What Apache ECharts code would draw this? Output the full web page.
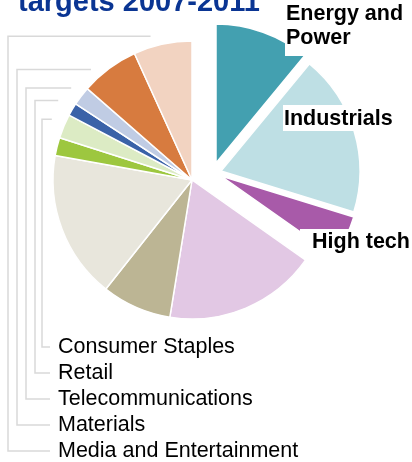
<!DOCTYPE html>
<html><head><meta charset="utf-8">
<script src="https://cdn.jsdelivr.net/npm/echarts@6/dist/echarts.min.js"></script>
<style>html,body{margin:0;padding:0;background:#fff}#c{width:412px;height:462px}</style>
</head><body><div id="c"></div>
<script>
// ---- data ----
const titleText = 'targets 2007-2011';
const sectors = ['Energy and Power', 'Industrials', 'High tech', 'Healthcare', 'Financials', 'Real Estate',
  'Consumer Products and Services', 'Consumer Staples', 'Retail', 'Telecommunications', 'Materials', 'Media and Entertainment'];
const shares = [11.0, 18.8, 5.0, 17.8, 8.1, 17.2, 2.1, 2.8, 1.5, 2.2, 6.8, 6.8];
const palette = ['#43a0b0', '#bedfe4', '#a85aa9', '#e2c8e4', '#bcb594', '#e8e6dc',
  '#9dc73f', '#dcebc4', '#3a62a8', '#c0cce4', '#d77b3f', '#f2d3c1'];

// ---- layout ----
const FONT = '"Liberation Sans", Arial, sans-serif';
const FS = 21.5;
const R = 139;
const MAIN = [192, 180];
const explode = { 0: [216, 163], 1: [221, 171], 2: [221, 176] };
const boldLabels = {
  0: { text: 'Energy and\nPower', x: 285, y: 2, padding: [0, 2, 6, 1] },
  1: { text: 'Industrials', x: 283, y: 105, padding: [2, 3, 0, 1] },
  2: { text: 'High tech', x: 300, y: 229, padding: [1, 10, 3, 12] }
};
// leader-line routing for the left labels (vertical rail x, label y, elbow offset from slice)
const leftSlots = {
  7: { vx: 42, ly: 347, dx: -12, dy: -7 },
  8: { vx: 35, ly: 373, dx: -14, dy: -9 },
  9: { vx: 26, ly: 399, dx: -10, dy: -8 },
  10: { vx: 17, ly: 425, dx: -18, dy: 1 },
  11: { vx: 8, ly: 451, dx: -12, dy: -8 }
};

const total = shares.reduce((a, b) => a + b, 0);
function midAngle(i) {
  let cum = 0;
  for (let k = 0; k < i; k++) cum += shares[k];
  return (cum + shares[i] / 2) / total * 2 * Math.PI;
}

function makeData(isVisible, labelFor) {
  return sectors.map((name, i) => {
    const vis = isVisible(i);
    const lab = labelFor(i);
    return {
      name: name,
      value: shares[i],
      itemStyle: vis ? { color: palette[i], borderColor: '#fff', borderWidth: 1.5 } : { color: 'rgba(0,0,0,0)', borderWidth: 0 },
      label: lab ? lab : { show: false },
      labelLine: { show: !!(lab && lab.line) }
    };
  });
}

const baseSeries = {
  type: 'pie',
  radius: R,
  startAngle: 90,
  clockwise: true,
  avoidLabelOverlap: false,
  animation: false,
  emphasis: { disabled: true },
  silent: true
};

const series = [];
series.push(Object.assign({}, baseSeries, {
  center: MAIN,
  data: makeData(i => explode[i] === undefined, i => leftSlots[i] ? {
    show: true, position: 'outside', formatter: '{b}', color: '#000', fontSize: FS, fontFamily: FONT, line: true
  } : null),
  labelLine: { show: true, length: 5, length2: 5, lineStyle: { color: '#d9d9d9', width: 1.5 } },
  labelLayout: function (p) {
    const s = leftSlots[p.dataIndex];
    if (!s) return {};
    const a = midAngle(p.dataIndex);
    const x0 = MAIN[0] + R * Math.sin(a) + s.dx;
    const y0 = MAIN[1] - R * Math.cos(a) + s.dy;
    return {
      x: 58, y: s.ly, align: 'left', verticalAlign: 'middle',
      labelLinePoints: [[x0, y0], [s.vx, y0], [s.vx, s.ly], [50, s.ly]]
    };
  }
}));
Object.keys(explode).forEach(k => {
  const idx = +k;
  const bl = boldLabels[idx];
  series.push(Object.assign({}, baseSeries, {
    center: explode[idx],
    data: makeData(i => i === idx, i => i === idx ? {
      show: true, position: 'outside', formatter: bl.text, color: '#000', fontSize: FS, fontWeight: 'bold',
      fontFamily: FONT, lineHeight: 24, backgroundColor: '#fff', padding: bl.padding
    } : null),
    labelLine: { show: false },
    labelLayout: function (p) {
      if (p.dataIndex !== idx) return {};
      return { x: bl.x, y: bl.y, align: 'left', verticalAlign: 'top' };
    }
  }));
});

const chart = echarts.init(document.getElementById('c'), null, { renderer: 'canvas' });
chart.setOption({
  backgroundColor: '#fff',
  animation: false,
  title: {
    text: titleText, left: 13, top: -17,
    textStyle: { fontSize: 29, fontWeight: 'bold', color: '#0a3593', fontFamily: FONT }
  },
  series: series
});
</script></body></html>
